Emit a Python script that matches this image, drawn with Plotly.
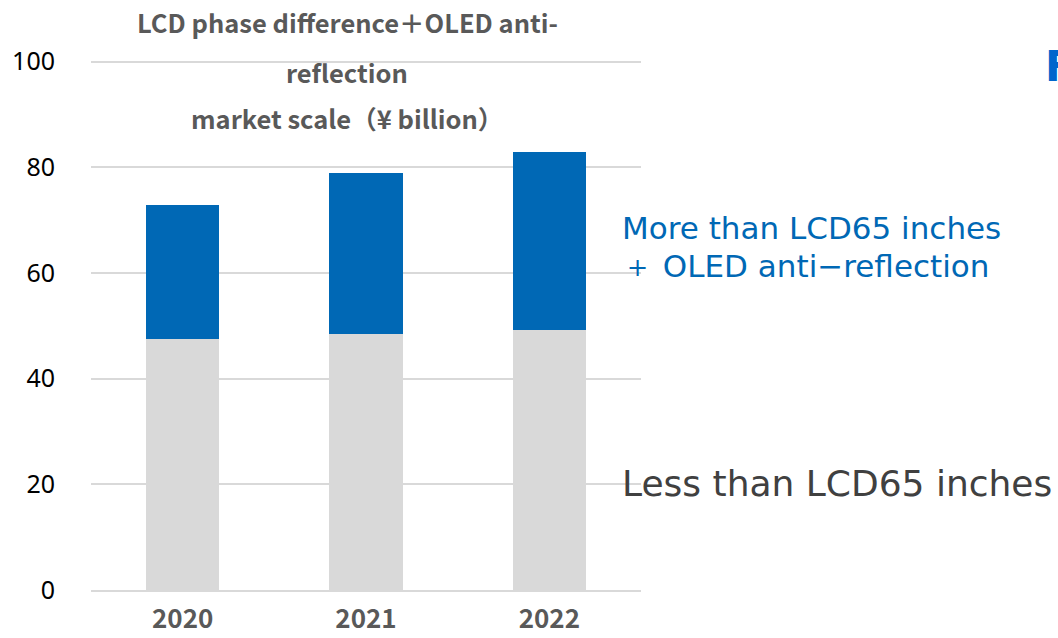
import plotly.graph_objects as go

years = ["2020", "2021", "2022"]
less_than_65 = [47.6, 48.4, 49.3]
more_than_65_oled = [25.3, 30.6, 33.6]
y_ticks = [0, 20, 40, 60, 80, 100]

W, H = 1058, 638
L, R, T, B = 91, 641, 59, 590  # plot area in pixels
YMAX = 100.5

def px(x):
    return (x - L) / (R - L)

def py(y):
    return (B - y) / (B - T)

fig = go.Figure()
fig.add_trace(go.Bar(x=years, y=less_than_65, marker=dict(color="#D9D9D9", line=dict(width=0)),
                     name="Less than LCD65 inches"))
fig.add_trace(go.Bar(x=years, y=more_than_65_oled, marker=dict(color="#0068B5", line=dict(width=0)),
                     name="More than LCD65 inches + OLED anti-reflection"))

fig.update_layout(
    width=W, height=H,
    margin=dict(l=L, r=W - R, t=T, b=H - B, pad=0, autoexpand=False),
    barmode="stack", bargap=0.6,
    plot_bgcolor="white", paper_bgcolor="white",
    showlegend=False,
    font=dict(family="Noto Sans CJK JP, Noto Sans, sans-serif"),
)
fig.update_xaxes(
    type="category", showgrid=False, showline=True, linecolor="#D9D9D9", linewidth=2,
    ticks="", ticklabelstandoff=5, automargin=False,
    tickfont=dict(size=26, color="#595959", family="Noto Sans CJK JP, sans-serif", weight="bold"),
)
fig.update_yaxes(
    range=[0, YMAX], tickvals=y_ticks, showgrid=True, gridcolor="#D9D9D9", gridwidth=2,
    zeroline=False, showline=False, ticks="", ticklabelstandoff=35, automargin=False,
    tickfont=dict(size=25, color="#000000", family="Noto Sans, sans-serif"),
)

title_lines = ["LCD phase difference＋OLED anti-", "reflection", "market scale（¥ billion）"]
title_y = [22, 71, 117]
for t, yy in zip(title_lines, title_y):
    fig.add_annotation(text=t, xref="paper", yref="paper", x=px(347), y=py(yy),
                       xanchor="center", yanchor="middle", showarrow=False,
                       font=dict(size=25.5, color="#595959", family="Noto Sans CJK JP, sans-serif", weight="bold"))

fig.add_annotation(text="More than LCD65 inches", xref="paper", yref="paper", x=px(620), y=py(228),
                   xanchor="left", yanchor="middle", showarrow=False,
                   font=dict(size=31, color="#0068B5", family="DejaVu Sans"))
fig.add_annotation(text="＋ OLED anti−reflection", xref="paper", yref="paper", x=px(620), y=py(266),
                   xanchor="left", yanchor="middle", showarrow=False,
                   font=dict(size=31, color="#0068B5", family="DejaVu Sans"))
fig.add_annotation(text="Less than LCD65 inches", xref="paper", yref="paper", x=px(620), y=py(483),
                   xanchor="left", yanchor="middle", showarrow=False,
                   font=dict(size=36, color="#404040", family="DejaVu Sans"))
fig.add_annotation(text="F", xref="paper", yref="paper", x=px(1043), y=py(66),
                   xanchor="left", yanchor="middle", showarrow=False,
                   font=dict(size=42, color="#0066CC", family="DejaVu Sans", weight="bold"))

fig.write_html("out.html")
